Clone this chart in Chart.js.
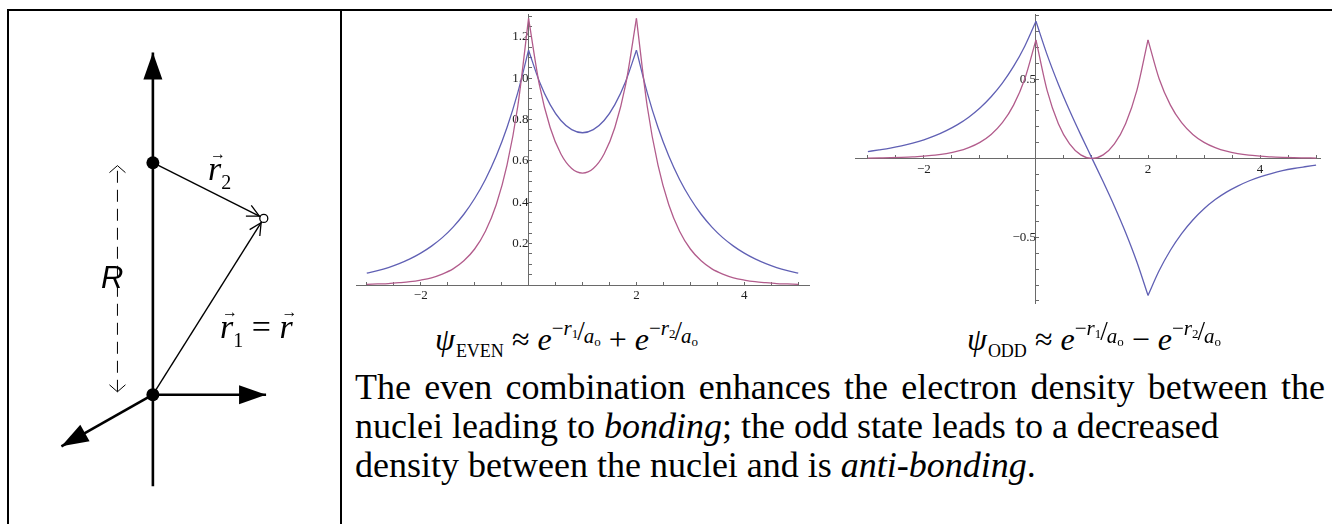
<!DOCTYPE html>
<html>
<head>
<meta charset="utf-8">
<script src="https://cdn.jsdelivr.net/npm/chart.js@4.4.1/dist/chart.umd.min.js"></script>
<style>
  html, body { margin: 0; padding: 0; background: #fff; }
  body { width: 1332px; height: 524px; position: relative; overflow: hidden; font-family: "Liberation Serif", "Times New Roman", serif; }
  .rule { position: absolute; background: #000; }
  canvas { position: absolute; }
  .txt { position: absolute; white-space: nowrap; color: #000; }
  .para { left: 355px; top: 368px; font-size: 36px; line-height: 39px; }
  .para .full { display: block; width: 970px; text-align: justify; text-align-last: justify; }
  .formula { font-size: 32px; line-height: 32px; top: 323px; }
  .formula i { font-style: italic; }
  .formula .sub { font-size: 18px; position: relative; top: 7px; margin-left: 1px; }
  .formula .exp { font-size: 21px; position: relative; top: -15px; display: inline-block; }
  .formula .exp .slash { font-size: 27px; position: relative; top: 5px; margin: 0 -1px 0 -1px; }
  .formula .exp .den { position: relative; top: 8px; }
  .formula .exp sub { font-size: 13px; vertical-align: baseline; position: relative; top: 3px; }
  .R { left: 101px; top: 262px; font-family: "Liberation Sans", Arial, sans-serif; font-style: italic; font-size: 31px; line-height: 31px; }
  .vlab { font-size: 34px; line-height: 34px; font-family: "Liberation Serif", serif; }
  .vlab i { font-style: italic; position: relative; }
  .vlab i .arr { position: absolute; left: 2px; top: -13px; font-size: 16px; font-style: normal; }
  .vlab .sb { font-size: 20px; position: relative; top: 9px; }
</style>
</head>
<body>
<!-- table rules -->
<div class="rule" style="left:7px; top:9px; width:1325px; height:2px;"></div>
<div class="rule" style="left:7px; top:9px; width:2px; height:515px;"></div>
<div class="rule" style="left:340px; top:9px; width:2px; height:515px;"></div>

<canvas id="diagram" width="331" height="513" style="left:9px; top:11px;"></canvas>
<canvas id="evenChart" width="480" height="310" style="left:350px; top:0px;"></canvas>
<canvas id="oddChart" width="487" height="320" style="left:845px; top:0px;"></canvas>

<div class="txt R">R</div>
<div class="txt vlab" style="left:208px; top:152px;"><i>r<span class="arr">→</span></i><span class="sb">2</span></div>
<div class="txt vlab" style="left:220px; top:310px;"><i>r<span class="arr">→</span></i><span class="sb">1</span> = <i>r<span class="arr">→</span></i></div>

<div class="txt formula" style="left:435px;"><i>ψ</i><span class="sub">EVEN</span> ≈ <i>e</i><span class="exp">−<i>r</i><sub>1</sub><span class="slash">/</span><span class="den"><i>a</i><sub>o</sub></span></span> + <i>e</i><span class="exp">−<i>r</i><sub>2</sub><span class="slash">/</span><span class="den"><i>a</i><sub>o</sub></span></span></div>
<div class="txt formula" style="left:967px;"><i>ψ</i><span class="sub">ODD</span> ≈ <i>e</i><span class="exp">−<i>r</i><sub>1</sub><span class="slash">/</span><span class="den"><i>a</i><sub>o</sub></span></span> − <i>e</i><span class="exp">−<i>r</i><sub>2</sub><span class="slash">/</span><span class="den"><i>a</i><sub>o</sub></span></span></div>

<div class="txt para"><span class="full">The even combination enhances the electron density between the</span>nuclei leading to <i>bonding</i>; the odd state leads to a decreased<br>density between the nuclei and is <i>anti-bonding</i>.</div>

<script>
// -------------------------------
// Plot data
// -------------------------------
const xValues = [-3, -2.8, -2.6, -2.4, -2.2, -2, -1.8, -1.6, -1.4, -1.2, -1, -0.8, -0.6, -0.4, -0.2,
    0, 0.2, 0.4, 0.6, 0.8, 1, 1.2, 1.4, 1.6, 1.8, 2, 2.2, 2.4, 2.6, 2.8, 3, 3.2, 3.4, 3.6, 3.8,
    4, 4.2, 4.4, 4.6, 4.8, 5];

// nuclei positions, where the curves have cusps
const cuspX = [0, 2];

// even combination: psi (blue) and psi^2 (red)
const evenPsi = [0.057, 0.069, 0.084, 0.103, 0.126, 0.154, 0.188, 0.229, 0.280, 0.342, 0.418, 0.510, 0.623, 0.761, 0.930,
    1.135, 0.984, 0.872, 0.795, 0.751, 0.736, 0.751, 0.795, 0.872, 0.984, 1.135, 0.930, 0.761, 0.623, 0.510,
    0.418, 0.342, 0.280, 0.229, 0.188, 0.154, 0.126, 0.103, 0.084, 0.069, 0.057];
const evenDensity = [0.003, 0.005, 0.007, 0.011, 0.016, 0.024, 0.035, 0.053, 0.078, 0.117, 0.174, 0.260, 0.388, 0.579, 0.864,
    1.289, 0.968, 0.761, 0.633, 0.563, 0.541, 0.563, 0.633, 0.761, 0.968, 1.289, 0.864, 0.579, 0.388, 0.260,
    0.174, 0.117, 0.078, 0.053, 0.035, 0.024, 0.016, 0.011, 0.007, 0.005, 0.003];

// odd combination: psi (blue) and psi^2 (red)
const oddPsi = [0.043, 0.053, 0.064, 0.078, 0.096, 0.117, 0.143, 0.175, 0.213, 0.260, 0.318, 0.389, 0.475, 0.580, 0.708,
    0.865, 0.653, 0.468, 0.302, 0.148, 0, -0.148, -0.302, -0.468, -0.653, -0.865, -0.708, -0.580, -0.475, -0.389,
    -0.318, -0.260, -0.213, -0.175, -0.143, -0.117, -0.096, -0.078, -0.064, -0.053, -0.043];
const oddDensity = [0.002, 0.003, 0.004, 0.006, 0.009, 0.014, 0.020, 0.030, 0.045, 0.068, 0.101, 0.151, 0.225, 0.336, 0.501,
    0.748, 0.427, 0.219, 0.091, 0.022, 0, 0.022, 0.091, 0.219, 0.427, 0.748, 0.501, 0.336, 0.225, 0.151,
    0.101, 0.068, 0.045, 0.030, 0.020, 0.014, 0.009, 0.006, 0.004, 0.003, 0.002];

// labelled ticks
const evenXLabels = [-2, 2, 4];
const evenYLabels = [0.2, 0.4, 0.6, 0.8, 1.0, 1.2];
const oddXLabels = [-2, 2, 4];
const oddYLabels = [-0.5, 0.5];

// -------------------------------
// Diagram geometry (units: R = 2)
// -------------------------------
const zAxis = [[0, -0.79], [0, 2.95]];
const xAxisArrow = [[0, 0], [0.99, 0]];
const yAxisArrow = [[0, 0], [-0.80, -0.445]];
const nuclei = [[0, 0], [0, 2]];
const electron = [[0.97, 1.52]];
const r1Vector = [[0, 0], [0.97, 1.52]];
const r2Vector = [[0, 2], [0.97, 1.52]];
const rSpan = [[-0.31, 0.025], [-0.31, 1.975]];

const BLUE = 'rgb(96, 96, 180)';
const RED = 'rgb(178, 92, 140)';
const AXIS = '#6a6a6a';
const TICK_FONT = { family: 'Liberation Serif', size: 13 };

const toPoints = pairs => pairs.map(([x, y]) => ({ x, y }));
const hasLabel = (list, v) => list.some(l => Math.abs(l - v) < 1e-6);
const fmt = (v, digits) => {
    const s = Math.abs(v).toFixed(digits);
    return v < 0 ? '\u2212' + s : s;
};

// split a curve at the cusps so each smooth piece can be interpolated on its own
function pieces(ys) {
    const cuts = [0, ...cuspX.map(c => xValues.indexOf(c)), xValues.length - 1];
    const out = [];
    for (let k = 0; k < cuts.length - 1; k++) {
        out.push(xValues.slice(cuts[k], cuts[k + 1] + 1).map((x, j) => ({ x, y: ys[cuts[k] + j] })));
    }
    return out;
}

// draws arrow heads at dataset ends
const arrowPlugin = {
    id: 'arrowHeads',
    afterDatasetsDraw(chart) {
        const ctx = chart.ctx;
        chart.data.datasets.forEach((ds, i) => {
            if (!ds.arrow) return;
            const pts = chart.getDatasetMeta(i).data;
            const a = ds.arrow;
            ctx.save();
            ctx.fillStyle = '#000';
            ctx.strokeStyle = '#000';
            ctx.lineWidth = a.width || 1;
            a.at.forEach(end => {
                const to = end === 'end' ? pts[pts.length - 1] : pts[0];
                const from = end === 'end' ? pts[pts.length - 2] : pts[1];
                const ang = Math.atan2(to.y - from.y, to.x - from.x);
                const c = Math.cos(ang), s = Math.sin(ang);
                const tx = to.x - c * (a.back || 0), ty = to.y - s * (a.back || 0);
                const bx = tx - c * a.len, by = ty - s * a.len;
                const nx = -s * a.half, ny = c * a.half;
                ctx.beginPath();
                if (a.fill) {
                    ctx.moveTo(tx, ty);
                    ctx.lineTo(bx + nx, by + ny);
                    ctx.lineTo(bx - nx, by - ny);
                    ctx.closePath();
                    ctx.fill();
                } else {
                    ctx.moveTo(bx + nx, by + ny);
                    ctx.lineTo(tx, ty);
                    ctx.lineTo(bx - nx, by - ny);
                    ctx.stroke();
                }
            });
            ctx.restore();
        });
    }
};

// Diagram: 119 px per unit, origin nucleus at canvas px (143, 387)
const UNIT = 119, OX = 143, OY = 387;
const dCanvas = document.getElementById('diagram');
const solidHead = { at: ['end'], len: 27, half: 9.5, fill: true };

new Chart(dCanvas, {
    type: 'scatter',
    data: {
        datasets: [
            { data: toPoints(electron), pointRadius: 4, pointBackgroundColor: '#fff', pointBorderColor: '#000', pointBorderWidth: 1.3, order: 0 },
            { data: toPoints(nuclei), pointRadius: 6.5, pointBackgroundColor: '#000', pointBorderWidth: 0, order: 1 },
            { data: toPoints(zAxis), showLine: true, borderColor: '#000', borderWidth: 2.6, pointRadius: 0, arrow: solidHead, order: 2 },
            { data: toPoints(xAxisArrow), showLine: true, borderColor: '#000', borderWidth: 2.6, pointRadius: 0, arrow: solidHead, order: 2 },
            { data: toPoints(yAxisArrow), showLine: true, borderColor: '#000', borderWidth: 2.6, pointRadius: 0, arrow: solidHead, order: 2 },
            { data: toPoints(r1Vector), showLine: true, borderColor: '#000', borderWidth: 1.4, pointRadius: 0, arrow: { at: ['end'], len: 12, half: 6, back: 5, width: 1.3 }, order: 3 },
            { data: toPoints(r2Vector), showLine: true, borderColor: '#000', borderWidth: 1.4, pointRadius: 0, arrow: { at: ['end'], len: 12, half: 6, back: 5, width: 1.3 }, order: 3 },
            { data: toPoints(rSpan), showLine: true, borderColor: '#000', borderWidth: 1, borderDash: [12, 7], pointRadius: 0, arrow: { at: ['start', 'end'], len: 7, half: 8, width: 1 }, order: 3 }
        ]
    },
    options: {
        responsive: false,
        animation: false,
        events: [],
        layout: { padding: 0 },
        plugins: { legend: { display: false }, tooltip: { enabled: false } },
        scales: {
            x: { type: 'linear', display: false, min: -OX / UNIT, max: (dCanvas.width - OX) / UNIT },
            y: { type: 'linear', display: false, min: -(dCanvas.height - OY) / UNIT, max: OY / UNIT }
        }
    },
    plugins: [arrowPlugin]
});

function plotChart(id, blue, red, opts) {
    const curve = (data, color, order) => ({
        data, borderColor: color, borderWidth: 1.3, pointRadius: 0,
        cubicInterpolationMode: 'monotone', order
    });
    return new Chart(document.getElementById(id), {
        type: 'line',
        data: {
            datasets: [
                ...pieces(red).map(p => curve(p, RED, 0)),
                ...pieces(blue).map(p => curve(p, BLUE, 1))
            ]
        },
        options: {
            responsive: false,
            animation: false,
            events: [],
            layout: { padding: opts.padding },
            plugins: { legend: { display: false }, tooltip: { enabled: false } },
            scales: {
                x: {
                    type: 'linear',
                    min: opts.xMin, max: opts.xMax,
                    position: { y: 0 },
                    border: { display: true, color: AXIS, width: 1 },
                    grid: { drawOnChartArea: false, drawTicks: true, tickLength: -4, tickColor: AXIS, tickWidth: 1 },
                    ticks: {
                        stepSize: 0.5, autoSkip: false, maxRotation: 0, includeBounds: false,
                        padding: 7, color: '#222', font: TICK_FONT,
                        callback: v => hasLabel(opts.xLabels, v) ? fmt(v, 0) : ''
                    }
                },
                y: {
                    type: 'linear',
                    min: opts.yMin, max: opts.yMax,
                    position: { x: 0 },
                    border: { display: true, color: AXIS, width: 1 },
                    grid: { drawOnChartArea: false, drawTicks: true, tickLength: -4, tickColor: AXIS, tickWidth: 1 },
                    ticks: {
                        stepSize: opts.yStep, autoSkip: false, includeBounds: false,
                        padding: 7, color: '#222', font: TICK_FONT,
                        callback: v => hasLabel(opts.yLabels, v) ? fmt(v, 1) : ''
                    }
                }
            }
        }
    });
}

plotChart('evenChart', evenPsi, evenDensity, {
    padding: { left: 6, right: 21, top: 12, bottom: 25 },
    xMin: -3.2, xMax: 5.2, yMin: 0, yMax: 1.306, yStep: 0.05,
    xLabels: evenXLabels, yLabels: evenYLabels
});

plotChart('oddChart', oddPsi, oddDensity, {
    padding: { left: 10, right: 12, top: 12, bottom: 17 },
    xMin: -3.23, xMax: 5.07, yMin: -0.913, yMax: 0.906, yStep: 0.1,
    xLabels: oddXLabels, yLabels: oddYLabels
});
</script>
</body>
</html>
